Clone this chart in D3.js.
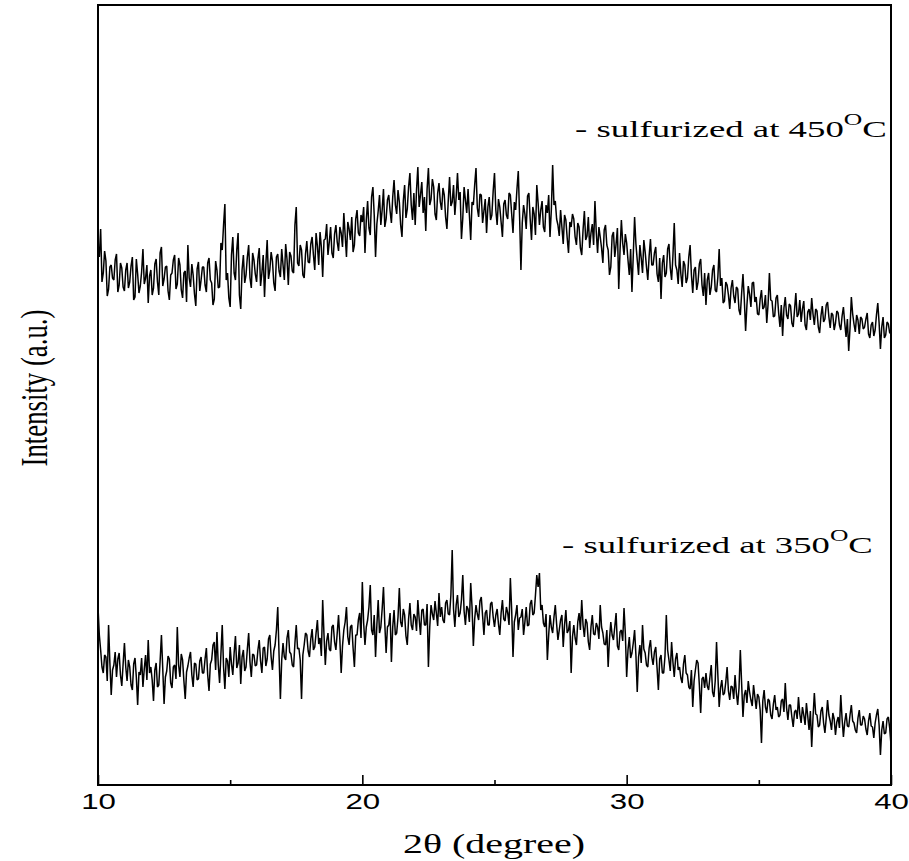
<!DOCTYPE html>
<html>
<head>
<meta charset="utf-8">
<script src="https://cdn.jsdelivr.net/npm/d3@7"></script>
<style>
  body { margin: 0; background: #fff; }
</style>
</head>
<body>
<script>

// scan settings (degrees 2theta), 0.05 deg step
var thetaStart = 10, thetaStep = 0.05;

var xTicks = [10, 20, 30, 40];
var xMinorTicks = [15, 25, 35];

// intensity, one row per degree (10.00 ... 10.95 etc)
var int450 = [
  540,528,556,503,512,534,524,489,496,518,520,507,505,525,531,493,500,522,517,498,
  494,515,522,497,503,519,528,485,488,526,511,492,499,513,536,501,507,520,482,509,
  515,490,497,521,526,503,490,532,538,499,506,518,519,494,485,510,512,525,530,496,
  501,527,520,495,487,512,514,483,540,507,498,521,510,491,479,516,523,494,505,518,
  518,500,493,522,527,505,502,480,486,524,515,497,498,542,535,560,581,505,512,487,
  478,530,548,512,505,535,552,490,476,515,530,502,510,528,540,507,497,532,525,511,
  503,526,537,499,512,530,488,521,545,506,515,533,524,502,494,528,531,514,508,536,
  520,505,541,526,500,533,529,514,512,560,578,522,519,540,535,510,507,531,544,523,
  522,541,548,530,515,552,539,520,553,538,508,545,546,561,530,543,558,532,527,551,
  560,543,534,558,552,538,572,550,528,563,556,545,568,533,540,566,575,552,549,570,
  563,578,532,565,584,557,550,588,598,570,528,561,574,590,560,575,596,558,566,585,
  590,574,562,588,605,580,571,595,583,560,548,584,600,567,576,598,612,580,565,592,
  560,595,618,578,590,603,572,588,554,596,617,580,586,606,598,571,565,592,602,583,
  575,597,590,568,556,584,608,579,583,600,570,588,612,585,593,546,567,598,585,572,
  596,570,545,583,580,600,617,577,568,591,590,562,574,586,552,578,588,565,570,594,
  612,575,560,586,578,563,548,581,585,570,566,592,590,571,552,583,575,596,614,568,
  515,562,580,571,556,589,592,566,545,578,571,550,600,582,560,575,584,558,553,580,
  572,590,548,575,620,580,584,566,560,549,575,558,541,570,565,547,532,563,558,571,
  566,548,540,562,558,537,530,555,574,545,549,568,537,552,561,540,584,553,532,558,
  548,537,522,555,560,540,535,510,518,549,553,528,541,557,496,535,565,542,530,551,
  542,525,510,536,493,530,568,541,525,510,540,527,512,545,533,518,505,529,546,520,
  520,532,538,511,503,527,486,522,530,508,512,536,541,517,505,529,562,520,515,501,
  532,511,498,524,520,502,507,528,540,510,492,515,518,495,503,521,526,500,489,512,
  480,505,512,490,498,515,520,495,493,508,536,499,507,482,484,503,500,490,476,497,
  505,489,482,498,496,475,470,492,511,486,454,480,499,491,478,502,503,483,488,471,
  470,486,495,476,478,490,462,481,512,485,484,468,469,487,490,472,458,480,449,477,
  488,470,466,481,479,462,458,475,492,468,471,485,463,476,484,460,455,473,476,465,
  487,471,460,476,474,458,452,469,479,463,466,480,483,468,457,472,470,455,462,474,
  472,460,455,469,478,462,448,466,434,457,488,471,461,453,470,465,451,468,466,456,
  458,466,472,451,447,460,463,449,455,470,482,462,436,458,468,447,450,463,461,452,
  452
];

var int350 = [
  178,150,135,118,112,130,128,104,160,122,90,115,120,133,108,126,132,110,99,121,
  142,118,104,125,118,100,95,121,127,108,80,113,110,127,98,116,130,105,145,112,
  118,105,84,115,122,98,100,124,150,116,81,108,114,129,126,102,97,118,120,106,
  158,120,108,131,125,104,86,113,119,127,133,110,98,122,121,105,106,124,128,112,
  112,126,137,110,94,121,125,140,143,115,153,120,102,131,160,118,96,127,124,108,
  138,121,110,132,149,117,122,140,101,128,135,114,118,136,152,123,108,131,130,119,
  120,135,145,124,112,137,138,119,126,146,150,128,115,134,140,155,178,130,86,125,
  142,128,125,147,155,133,131,120,118,142,160,136,137,125,86,130,140,152,150,134,
  128,146,156,135,138,152,165,141,147,129,185,150,120,144,152,136,134,158,160,143,
  135,152,170,145,112,139,155,163,178,148,140,158,160,137,118,150,150,165,172,147,
  203,162,140,158,165,178,200,155,150,170,128,160,185,152,158,176,198,161,132,158,
  160,172,123,158,175,150,152,168,197,163,158,176,170,149,140,166,182,160,155,171,
  168,154,185,166,150,175,176,160,160,181,118,158,180,171,165,184,172,159,192,168,
  178,165,162,182,185,171,170,190,235,176,158,180,190,168,172,185,210,174,160,179,
  176,163,202,178,139,166,180,171,165,184,188,169,150,172,175,160,160,181,183,168,
  158,170,176,161,150,172,185,166,164,178,172,160,207,175,128,163,170,180,155,167,
  168,176,150,163,178,159,160,181,185,170,172,190,210,198,212,175,180,162,158,171,
  125,150,170,158,152,168,180,161,145,155,165,170,138,160,175,152,155,164,112,148,
  160,147,140,163,172,155,185,160,148,166,162,143,135,158,170,151,150,162,158,146,
  180,158,152,141,140,155,118,146,163,150,145,158,172,139,135,153,155,144,177,151,
  108,135,148,127,132,142,155,130,93,128,140,122,160,136,132,120,118,137,145,128,
  120,133,138,117,95,126,130,112,112,129,170,135,125,114,143,123,108,126,132,115,
  118,107,102,121,130,112,110,98,96,115,78,104,115,125,122,100,72,106,108,97,
  112,99,95,108,120,93,88,104,143,110,78,97,105,90,92,103,118,94,85,99,
  98,86,110,92,80,97,135,101,68,90,95,82,104,93,85,79,100,88,76,91,
  88,75,42,84,95,78,72,86,84,70,66,81,90,75,78,68,70,84,86,73,
  102,77,65,80,80,68,58,73,75,66,88,71,62,78,70,60,82,69,55,74,
  38,68,92,71,70,58,60,74,78,62,52,67,85,70,64,55,72,66,50,63,
  68,57,90,66,48,63,72,59,58,70,80,64,62,55,52,67,75,60,60,69,
  66,56,50,64,72,59,58,47,62,70,76,60,30,55,64,51,52,66,68,57,
  40
];

var margin = {top: 5, right: 18, bottom: 76, left: 98},
    width = 909 - margin.left - margin.right,
    height = 861 - margin.top - margin.bottom;

var serif = "'Liberation Serif', 'Times New Roman', serif";
var sans = "'Liberation Sans', Arial, sans-serif";

var svg = d3.select("body").append("svg")
    .attr("width", 909)
    .attr("height", 861);

var g = svg.append("g")
    .attr("transform", "translate(" + margin.left + "," + margin.top + ")");

var x = d3.scaleLinear().domain([10, 40]).range([0, width]);
var y = d3.scaleLinear().domain([0, 780]).range([height, 0]);

var line = d3.line()
    .x(function(d) { return x(d[0]); })
    .y(function(d) { return y(d[1]); });

[int450, int350].forEach(function(series) {
  g.append("path")
      .datum(series.map(function(v, i) { return [thetaStart + i * thetaStep, v]; }))
      .attr("fill", "none")
      .attr("stroke", "#000")
      .attr("stroke-width", 1.5)
      .attr("stroke-linejoin", "bevel")
      .attr("d", line);
});

// minor ticks
g.append("g")
    .attr("transform", "translate(0," + height + ")")
    .call(d3.axisBottom(x).tickValues(xMinorTicks).tickSizeInner(-5).tickSizeOuter(0).tickFormat(""))
    .call(function(a) { a.select(".domain").remove(); })
    .selectAll("line").attr("stroke-width", 1.6);

// major ticks + labels
var xAxis = g.append("g")
    .attr("transform", "translate(0," + height + ")")
    .call(d3.axisBottom(x).tickValues(xTicks).tickSizeInner(-10).tickSizeOuter(0).tickPadding(8));
xAxis.select(".domain").remove();
xAxis.selectAll("line").attr("stroke-width", 1.6);
xAxis.selectAll("text")
    .attr("font-family", sans)
    .attr("font-size", 22)
    .attr("fill", "#000")
    .attr("transform", "scale(1.42,1)");

// frame
g.append("rect")
    .attr("width", width)
    .attr("height", height)
    .attr("fill", "none")
    .attr("stroke", "#000")
    .attr("stroke-width", 2);

// horizontal factor so a text spans the wanted width
function fitText(sel, targetWidth) {
  return targetWidth / sel.node().getComputedTextLength();
}

// axis titles
var xt = svg.append("g");
var xtText = xt.append("text")
    .attr("font-family", serif)
    .attr("font-size", 28)
    .attr("text-anchor", "middle")
    .text("2\u03b8 (degree)");
xt.attr("transform", "translate(494,853) scale(" + fitText(xtText, 182) + ",1)");

var yt = svg.append("g");
var ytText = yt.append("text")
    .attr("font-family", serif)
    .attr("font-size", 27)
    .attr("text-anchor", "middle")
    .text("Intensity (a.u.)");
yt.attr("transform", "translate(47,388) scale(1.4,1) rotate(-90) scale(" + fitText(ytText, 157) + ",1)");

// annotations
function label(tx, ty, temp, w) {
  var lg = svg.append("g");
  var t = lg.append("text")
      .attr("font-family", serif)
      .attr("font-size", 23)
      .attr("fill", "#000");
  t.append("tspan").text("- sulfurized at " + temp);
  t.append("tspan").attr("font-size", 16).attr("dy", -12).text("O");
  t.append("tspan").attr("dy", 12).text("C");
  lg.attr("transform", "translate(" + tx + "," + ty + ") scale(" + fitText(t, w) + ",1)");
}
label(575, 137, 450, 312);
label(562, 553, 350, 311);

</script>
</body>
</html>
